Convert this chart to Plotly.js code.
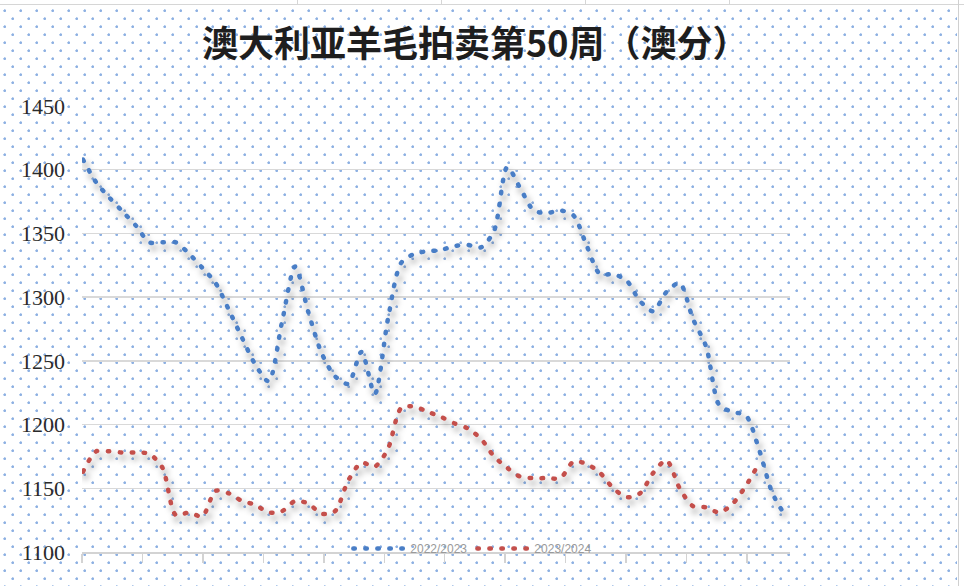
<!DOCTYPE html>
<html>
<head>
<meta charset="utf-8">
<script src="https://cdn.plot.ly/plotly-3.0.1.min.js"></script>
<style>
  html, body { margin: 0; padding: 0; background: #ffffff; }
  #wrap { position: relative; width: 964px; height: 586px; overflow: hidden; background: #ffffff; }
  #bg {
    position: absolute; left: 0; top: 7px; width: 957px; height: 579px;
    background-image:
      radial-gradient(circle at 12.7px 2.7px, #8db0e2 0px, #8db0e2 1px, rgba(255,255,255,0) 1.7px),
      radial-gradient(circle at 4.7px 10.7px, #8db0e2 0px, #8db0e2 1px, rgba(255,255,255,0) 1.7px);
    background-size: 16px 16px;
    background-position: 0px -7px;
  }
  #topline { position: absolute; left: 0; top: 4px; width: 964px; height: 1px; background: #d6d6d6; }
  .vtick { position: absolute; top: 0; width: 1px; height: 4px; background: #d6d6d6; }
  #rightline { position: absolute; left: 958px; top: 0; width: 1px; height: 586px; background: #d0d0d0; }
  #chart { position: absolute; left: 0; top: 0; width: 964px; height: 586px; }
  #chart path.js-line { stroke-linecap: round; }
</style>
</head>
<body>
<div id="wrap">
  <div id="bg"></div>
  <div id="topline"></div>
  <div class="vtick" style="left:297px"></div>
  <div class="vtick" style="left:441px"></div>
  <div class="vtick" style="left:585px"></div>
  <div class="vtick" style="left:729px"></div>
  <div id="rightline"></div>
  <div id="chart"></div>
</div>
<script>
// Series names
const seriesNames = ['2022/2023', '2023/2024'];

// Weekly prices (Australian cents), 2022/2023 season
const season2022 = [
  1408, 1390, 1378, 1367, 1356, 1343, 1343, 1343, 1334, 1323,
  1311, 1290, 1268, 1247, 1234, 1280, 1324, 1288, 1256, 1238,
  1232, 1257, 1224, 1283, 1327, 1334, 1336, 1337, 1340, 1341,
  1339, 1352, 1402, 1385, 1368, 1366, 1368, 1364, 1340, 1318,
  1318, 1313, 1297, 1289, 1304, 1311, 1283, 1261, 1215, 1210,
  1207, 1180, 1146, 1128
];

// Weekly prices (Australian cents), 2023/2024 season
const season2023 = [
  1163, 1179, 1179, 1178, 1178, 1177, 1166, 1129, 1131, 1128,
  1148, 1146, 1140, 1137, 1131, 1132, 1140, 1138, 1130, 1132,
  1156, 1170, 1167, 1181, 1213, 1214, 1210, 1206, 1201, 1197,
  1189, 1175, 1166, 1159, 1158, 1158, 1158, 1171, 1169, 1162,
  1150, 1143, 1146, 1162, 1172, 1150, 1136, 1135, 1131, 1138,
  1152, 1170
];

// Y-axis tick values
const yTicks = [1100, 1150, 1200, 1250, 1300, 1350, 1400, 1450];

const titleText = '澳大利亚羊毛拍卖第50周（澳分）';

const lineStyle = (color) => ({
  color: color, width: 4.5, dash: '1.5px,10.5px', shape: 'spline', smoothing: 0.8
});

const data = [
  { type: 'scatter', mode: 'lines', name: seriesNames[0], y: season2022, line: lineStyle('#4a7ec6'), hoverinfo: 'skip' },
  { type: 'scatter', mode: 'lines', name: seriesNames[1], y: season2023, line: lineStyle('#c4504c'), hoverinfo: 'skip' }
];

const layout = {
  width: 964, height: 586,
  margin: { l: 82, r: 174, t: 106, b: 34, pad: 0 },
  paper_bgcolor: 'rgba(0,0,0,0)',
  plot_bgcolor: 'rgba(0,0,0,0)',
  title: {
    text: titleText,
    font: { family: '"Noto Sans CJK SC", sans-serif', size: 36, weight: 700, color: '#1e1e1e' },
    x: 0.493, xref: 'container', xanchor: 'center',
    y: 0.925, yref: 'container', yanchor: 'middle'
  },
  showlegend: true,
  legend: {
    orientation: 'h', x: 0.552, xanchor: 'center', y: 0.008, yanchor: 'middle',
    bgcolor: 'rgba(0,0,0,0)',
    font: { family: '"Liberation Sans", Arial, sans-serif', size: 12, color: '#9a9a9a' },
    itemwidth: 52, tracegroupgap: 0
  },
  xaxis: {
    range: [-0.075, 53.32],
    showgrid: false, zeroline: false,
    showline: true, linecolor: '#d3d3d3', linewidth: 1.5,
    ticks: 'outside', ticklen: 9, tickwidth: 1.5, tickcolor: '#d3d3d3',
    tick0: -0.075, dtick: 4.559,
    showticklabels: false, fixedrange: true
  },
  yaxis: {
    range: [1100, 1450],
    tickvals: yTicks,
    ticktext: yTicks.map(String),
    showgrid: true, gridcolor: '#d9d9d9', gridwidth: 1.5,
    zeroline: false, showline: false, ticks: '',
    ticklabelstandoff: 16,
    tickfont: { family: '"Liberation Serif", "Times New Roman", serif', size: 22, color: '#2a2a2a' },
    fixedrange: true
  }
};

Plotly.newPlot('chart', data, layout, { staticPlot: true, displayModeBar: false }).then(function (gd) {
  const ns = 'http://www.w3.org/2000/svg';
  const svg = gd.querySelector('svg.main-svg');
  let defs = svg.querySelector('defs');
  if (!defs) { defs = document.createElementNS(ns, 'defs'); svg.insertBefore(defs, svg.firstChild); }
  const f = document.createElementNS(ns, 'filter');
  f.setAttribute('id', 'lshadow');
  f.setAttribute('filterUnits', 'userSpaceOnUse');
  f.setAttribute('x', '-200'); f.setAttribute('y', '-200');
  f.setAttribute('width', '1400'); f.setAttribute('height', '1000');
  const ds = document.createElementNS(ns, 'feDropShadow');
  ds.setAttribute('dx', '2.5'); ds.setAttribute('dy', '5');
  ds.setAttribute('stdDeviation', '3');
  ds.setAttribute('flood-color', '#000000');
  ds.setAttribute('flood-opacity', '0.45');
  f.appendChild(ds);
  defs.appendChild(f);
  gd.querySelectorAll('.scatterlayer path.js-line').forEach(function (p) {
    p.setAttribute('filter', 'url(#lshadow)');
  });
});
</script>
</body>
</html>
